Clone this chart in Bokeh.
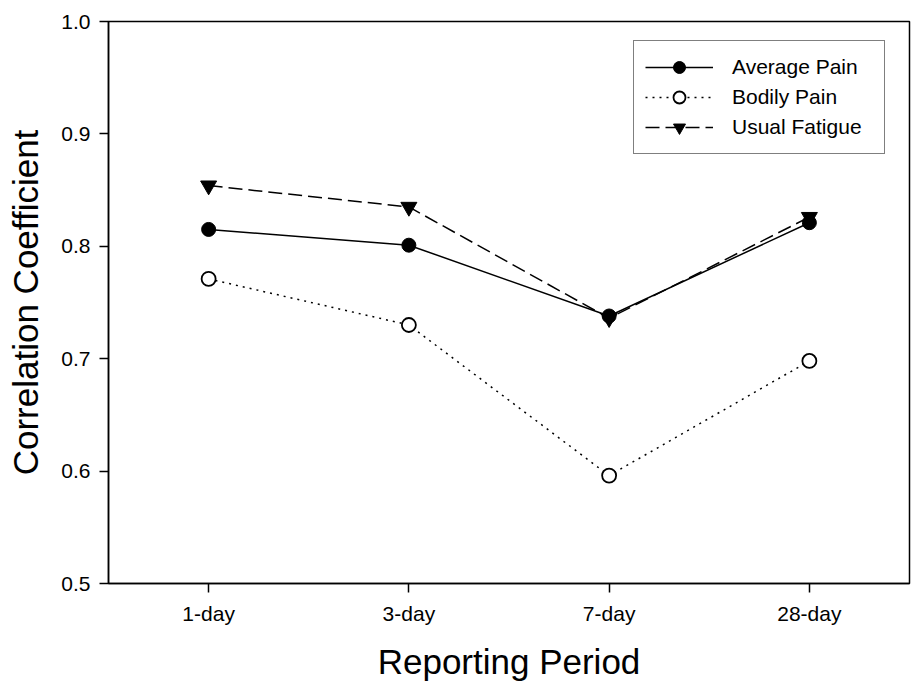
from bokeh.plotting import figure
from bokeh.models import FixedTicker, Range1d, Legend, LegendItem, NumeralTickFormatter
from bokeh.embed import file_html
from bokeh.resources import INLINE

periods = ["1-day", "3-day", "7-day", "28-day"]
x_pos = [1, 2, 3, 4]
average_pain = [0.815, 0.801, 0.738, 0.821]
bodily_pain = [0.771, 0.730, 0.596, 0.698]
usual_fatigue = [0.854, 0.835, 0.736, 0.826]
y_ticks = [0.5, 0.6, 0.7, 0.8, 0.9, 1.0]

FONT = "Liberation Sans"

p = figure(width=912, height=690, output_backend="svg", toolbar_location=None,
           x_range=Range1d(0.5, 4.5), y_range=Range1d(0.5, 1.0),
           min_border_left=108, min_border_right=3, min_border_top=21, min_border_bottom=107)
p.xgrid.visible = False
p.ygrid.visible = False
p.outline_line_color = "black"
p.outline_line_width = 1.5
p.background_fill_color = "white"
p.border_fill_color = "white"

l1 = p.line(x_pos, average_pain, line_color="black", line_width=1.5)
s1 = p.scatter(x_pos, average_pain, marker="circle", size=14, fill_color="black", line_color="black")
l2 = p.line(x_pos, bodily_pain, line_color="black", line_width=1.5, line_dash="2 5")
s2 = p.scatter(x_pos, bodily_pain, marker="circle", size=14, fill_color="white", line_color="black", line_width=1.8)
l3 = p.line(x_pos, usual_fatigue, line_color="black", line_width=1.5, line_dash="14 6")
s3 = p.scatter(x_pos, usual_fatigue, marker="inverted_triangle", size=16, fill_color="black", line_color="black")

for ax in (p.xaxis[0], p.yaxis[0]):
    ax.axis_line_width = 1.5
    ax.axis_line_color = "black"
    ax.major_tick_line_width = 1.5
    ax.major_tick_line_color = "black"
    ax.major_tick_in = 0
    ax.major_tick_out = 9
    ax.minor_tick_line_color = None
    ax.major_label_text_font = FONT
    ax.major_label_text_font_size = "21px"
    ax.major_label_text_color = "black"
    ax.axis_label_text_font = FONT
    ax.axis_label_text_font_style = "normal"
    ax.axis_label_text_font_size = "35px"
    ax.axis_label_text_color = "black"

p.xaxis.ticker = FixedTicker(ticks=x_pos)
p.xaxis.major_label_overrides = {x: lab for x, lab in zip(x_pos, periods)}
p.xaxis.major_label_standoff = 9
p.xaxis.axis_label = "Reporting Period"
p.xaxis.axis_label_standoff = 14

p.yaxis.ticker = FixedTicker(ticks=y_ticks)
p.yaxis.formatter = NumeralTickFormatter(format="0.0")
p.yaxis.major_label_standoff = 9
p.yaxis.axis_label = "Correlation Coefficient"
p.yaxis.axis_label_standoff = 13

legend = Legend(items=[
    LegendItem(label="Average Pain", renderers=[l1, s1]),
    LegendItem(label="Bodily Pain", renderers=[l2, s2]),
    LegendItem(label="Usual Fatigue", renderers=[l3, s3]),
], location=(525, 429))
legend.margin = 0
legend.padding = 11
legend.spacing = 0
legend.glyph_width = 68
legend.glyph_height = 30
legend.label_height = 20
legend.label_width = 141
legend.label_standoff = 19
legend.label_text_font = FONT
legend.label_text_font_size = "21px"
legend.label_text_color = "black"
legend.border_line_color = "black"
legend.border_line_width = 1.5
legend.background_fill_color = "white"
legend.background_fill_alpha = 1.0
p.add_layout(legend, "center")

open("out.html", "w").write(file_html(p, INLINE))
